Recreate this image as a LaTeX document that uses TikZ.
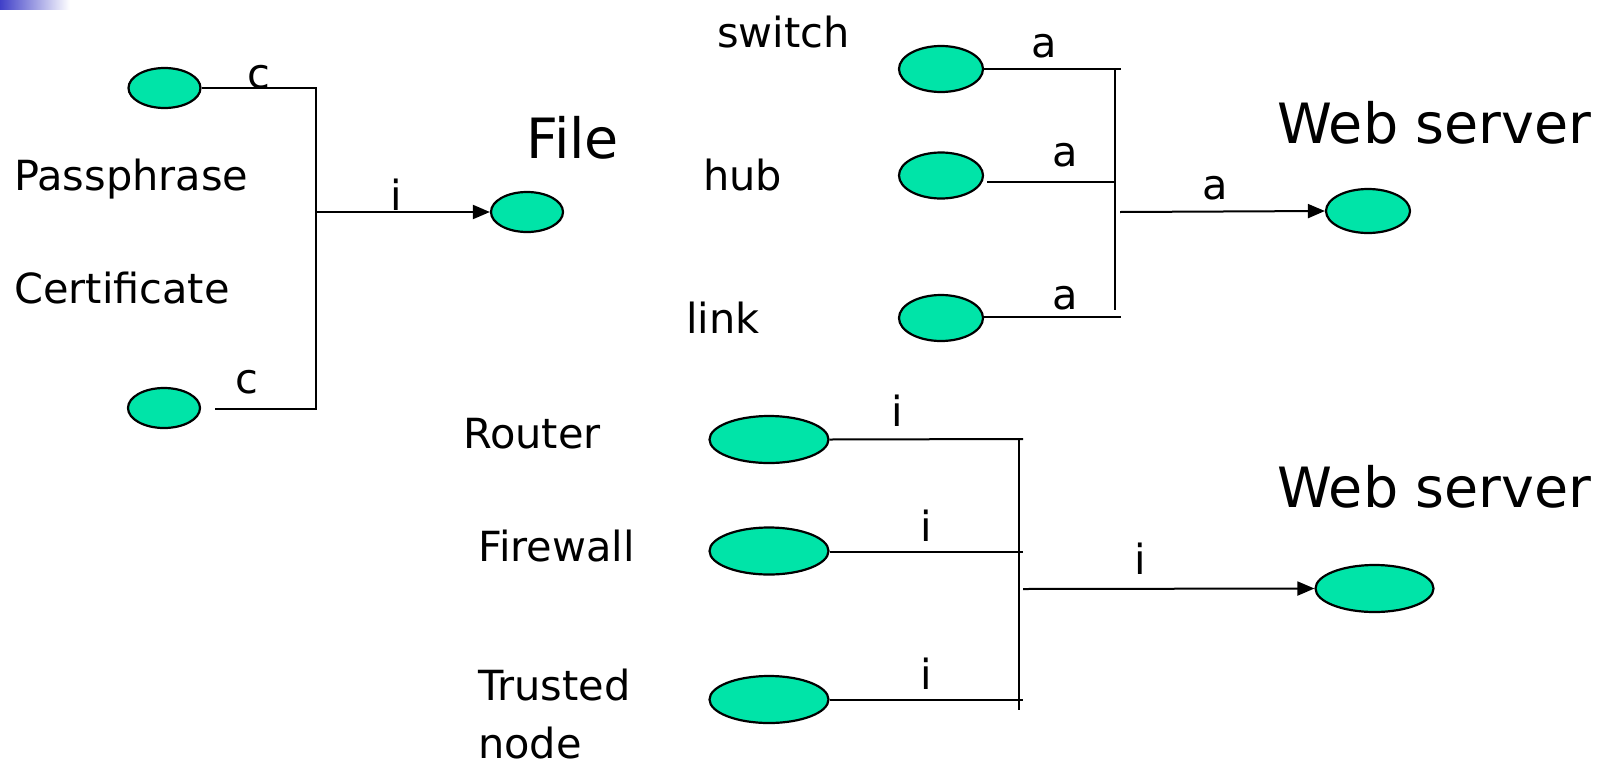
\documentclass[tikz,border=0pt]{standalone}
\usepackage{fontspec}
\setmainfont{DejaVu Sans}
\usetikzlibrary{arrows.meta,shapes.geometric}
\definecolor{mint}{RGB}{0,228,168}
\definecolor{barblue}{RGB}{64,64,200}
\tikzset{
  x=1pt, y=-1pt,
  blob/.style={ellipse, draw=black, line width=2.2pt, fill=mint, inner sep=0pt},
  wire/.style={draw=black, line width=2pt},
  feed/.style={wire, -{Triangle[length=17pt,width=14pt]}},
  lbl/.style={font=\fontsize{41.5}{58}\selectfont, inner sep=0pt},
  big/.style={font=\fontsize{55.5}{64}\selectfont, inner sep=0pt},
}
\begin{document}
\begin{tikzpicture}
\useasboundingbox (0,0) rectangle (1606,766);
% corner bar
\shade[left color=barblue, right color=white] (0,0) rectangle (70,9);

% ---- credentials -> file ----
\node[blob, minimum width=72pt, minimum height=40pt] (pp) at (164.5,88) {};
\node[blob, minimum width=72pt, minimum height=40pt] (ct) at (164,408) {};
\node[blob, minimum width=72pt, minimum height=40pt] (file) at (527,212) {};
\coordinate (ppbus) at (316,88);
\coordinate (ctbus) at (316,409);
\coordinate (ctend) at (215,409);
\coordinate (filebus) at (316,212);
\draw[wire] (pp.east) -- (ppbus) -- (ctbus) -- (ctend);
\draw[feed] (filebus) -- (file.west);
\node[lbl, anchor=base] (cpp) at (259,88) {c};
\node[lbl, anchor=base] (cct) at (247,393) {c};
\node[lbl, anchor=base] (ifile) at (396,210) {i};
\node[lbl, anchor=base west] (tpp) at (14,190) {Passphrase};
\node[lbl, anchor=base west] (tct) at (14,303) {Certificate};
\node[big, anchor=base west] (tfile) at (526,158) {File};

% ---- availability group ----
\node[blob, minimum width=84pt, minimum height=46pt] (sw) at (941,69) {};
\node[blob, minimum width=84pt, minimum height=46pt] (hub) at (941,175.5) {};
\node[blob, minimum width=84pt, minimum height=46pt] (lnk) at (941,318) {};
\node[blob, minimum width=84pt, minimum height=44pt] (web1) at (1368,211) {};
\coordinate (swend) at (1121,69);
\coordinate (hubstart) at (987,182);
\coordinate (hubend) at (1115,182);
\coordinate (lnkend) at (1121,317);
\coordinate (bustop) at (1115,69);
\coordinate (busbot) at (1115,310);
\coordinate (webfeed) at (1120,212);
\draw[wire] (sw.east) -- (swend);
\draw[wire] (hubstart) -- (hubend);
\draw[wire] (lnk.east |- lnkend) -- (lnkend);
\draw[wire] (bustop) -- (busbot);
\draw[feed] (webfeed) -- (web1.west);
\node[lbl, anchor=base] (asw) at (1044,57) {a};
\node[lbl, anchor=base] (ahub) at (1065,166) {a};
\node[lbl, anchor=base] (alnk) at (1065,309) {a};
\node[lbl, anchor=base] (aweb) at (1215,199) {a};
\node[lbl, anchor=base west] (tsw) at (717,47) {switch};
\node[lbl, anchor=base west] (thub) at (703,190) {hub};
\node[lbl, anchor=base west] (tlnk) at (686,333) {link};
\node[big, anchor=base west] (tweb1) at (1277,143) {Web server};

% ---- integrity group ----
\node[blob, minimum width=119pt, minimum height=47pt] (rt) at (769,439.5) {};
\node[blob, minimum width=119pt, minimum height=47pt] (fw) at (769,551) {};
\node[blob, minimum width=119pt, minimum height=47pt] (tn) at (769,699.5) {};
\node[blob, minimum width=118pt, minimum height=47pt] (web2) at (1374.5,588.5) {};
\coordinate (rtend) at (1023,439);
\coordinate (fwend) at (1023,552);
\coordinate (tnend) at (1023,700);
\coordinate (bus2top) at (1019,438);
\coordinate (bus2bot) at (1019,710);
\coordinate (web2feed) at (1023,589);
\draw[wire] (rt.east) -- (rtend);
\draw[wire] (fw.east |- fwend) -- (fwend);
\draw[wire] (tn.east |- tnend) -- (tnend);
\draw[wire] (bus2top) -- (bus2bot);
\draw[feed] (web2feed) -- (web2.west);
\node[lbl, anchor=base] (irt) at (897,426) {i};
\node[lbl, anchor=base] (ifw) at (926,541) {i};
\node[lbl, anchor=base] (itn) at (926,689) {i};
\node[lbl, anchor=base] (iweb) at (1140,574) {i};
\node[lbl, anchor=base west] (trt) at (463,448) {Router};
\node[lbl, anchor=base west] (tfw) at (478,561) {Firewall};
\node[lbl, anchor=base west, align=left] (ttn) at (478,758) {Trusted\\node};
\node[big, anchor=base west] (tweb2) at (1277,507) {Web server};
\end{tikzpicture}
\end{document}
